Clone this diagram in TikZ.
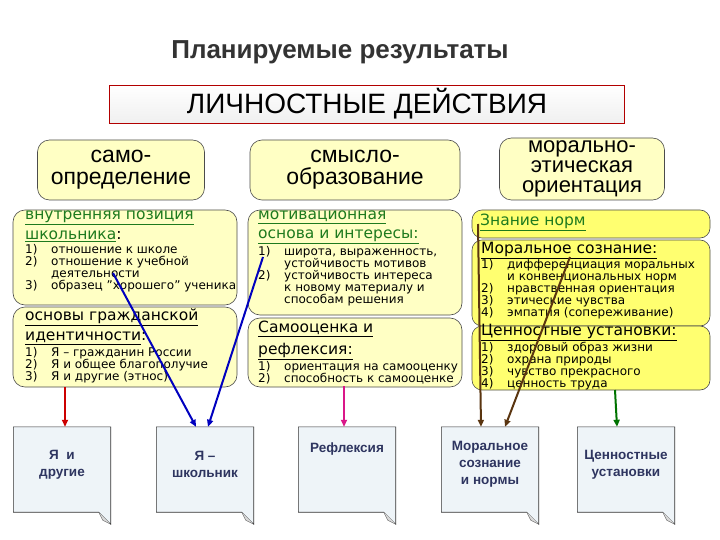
\documentclass[tikz,border=0pt]{standalone}
\usepackage{fontspec}
\setmainfont{DejaVu Sans}
\newfontfamily\arial{Liberation Sans}
\usetikzlibrary{arrows.meta,shadows}
\definecolor{ly}{HTML}{FFFFC4}
\definecolor{dy}{HTML}{FFFF70}
\definecolor{gr}{HTML}{1E7A1E}
\definecolor{navy}{HTML}{2E3560}
\definecolor{docf}{HTML}{EEF4F8}
\definecolor{brn}{HTML}{5A3510}
\newcommand{\li}[2]{\makebox[26pt][l]{#1}#2}
\newcommand{\lc}[1]{\hspace*{26pt}#1}
\newcommand{\hd}[1]{{\fontsize{15.5}{17.5}\selectfont #1}}
\newcommand{\ls}{\fontsize{12}{12.6}\selectfont}
\tikzset{
 ybox/.style={draw=black!70,fill=ly,rounded corners=12pt,line width=0.6pt,inner sep=0},
 dbox/.style={draw=black!70,fill=dy,rounded corners=10pt,line width=0.6pt,inner sep=0},
 txt/.style={anchor=north west,align=left,inner sep=0},
 tfont/.style={font=\arial\fontsize{23}{22}\selectfont,align=center},
 doc/.style={draw=none,minimum width=97pt,minimum height=85pt,inner sep=0,text=navy,font=\arial\bfseries\fontsize{13.5}{17}\selectfont,align=center},
 arr/.style={line width=2pt,-{Triangle[length=7pt,width=6pt]}}
}
\newcommand{\docbox}[3]{%
 \node[doc] (#1) at (#2) {};
 \fill[docf] (#1.north west) -- (#1.north east) -- ([yshift=-12pt]#1.south east) -- ([xshift=-12pt]#1.south east) -- (#1.south west) -- cycle;
 \draw[black!80,line width=0.6pt] (#1.north west) -- (#1.north east) -- ([yshift=-12pt]#1.south east) -- ([xshift=-12pt]#1.south east) -- (#1.south west) -- cycle;
 \draw[black!70,fill=black!15] ([yshift=-12pt]#1.south east) -- ([xshift=-8pt,yshift=-8pt]#1.south east) -- ([xshift=-12pt]#1.south east);
 \node[doc,anchor=center] at ([yshift=5pt]#1.center) {#3};}
\begin{document}
\begin{tikzpicture}[x=1pt,y=-1pt]
\useasboundingbox (0,0) rectangle (720,540);
\fill[white] (0,0) rectangle (720,540);
% title
\node[font=\arial\bfseries\fontsize{26}{27}\selectfont,text=black!80] (title) at (340,52) {Планируемые результаты};
\node[draw=red!70!black,line width=0.5pt,top color=white,bottom color=black!6,minimum width=515pt,minimum height=32pt,font=\arial\fontsize{28}{28}\selectfont] (banner) at (367,104) {ЛИЧНОСТНЫЕ ДЕЙСТВИЯ};
% top boxes
\node[ybox,minimum width=167pt,minimum height=60pt,tfont] (t1) at (121,170) {само-\\определение};
\node[ybox,minimum width=210pt,minimum height=60pt,tfont] (t2) at (355,170) {смысло-\\образование};
\node[ybox,minimum width=165pt,minimum height=62pt,tfont,font=\arial\fontsize{22}{20}\selectfont] (t3) at (582,169) {морально-\\этическая\\ориентация};
% left column
\node[ybox,minimum width=224pt,minimum height=95pt] (b1) at (125,257.5) {};
\node[txt] at (25,211) {\hd{\textcolor{gr}{\underline{внутренняя позиция}}}\\[5pt]\hd{\textcolor{gr}{\underline{школьника}}:}\\[1.5pt]
\ls\li{1)}{отношение к школе}\\\ls\li{2)}{отношение к учебной}\\\ls\lc{деятельности}\\\ls\li{3)}{образец "хорошего" ученика}};
\node[ybox,minimum width=224pt,minimum height=80pt] (b2) at (125,347) {};
\node[txt] at (25,309) {\hd{\underline{основы гражданской}}\\[5pt]\hd{\underline{идентичности}:}\\[1.5pt]
\ls\li{1)}{Я – гражданин России}\\\ls\li{2)}{Я и общее благополучие}\\\ls\li{3)}{Я и другие (этнос)}};
% middle column
\node[ybox,minimum width=214pt,minimum height=105pt] (b3) at (355,262.5) {};
\node[txt] at (258,211) {\hd{\textcolor{gr}{\underline{мотивационная}}}\\[5pt]\hd{\textcolor{gr}{\underline{основа и интересы:}}}\\[1.5pt]
\ls\li{1)}{широта, выраженность,}\\\ls\lc{устойчивость мотивов}\\\ls\li{2)}{устойчивость интереса}\\\ls\lc{к новому материалу и}\\\ls\lc{способам решения}};
\node[ybox,minimum width=214pt,minimum height=69pt] (b4) at (355,352.5) {};
\node[txt] at (258,321) {\hd{\underline{Самооценка и}}\\[5pt]\hd{\underline{рефлексия:}}\\[1.5pt]
\ls\li{1)}{ориентация на самооценку}\\\ls\li{2)}{способность к самооценке}};
% right column
\node[dbox,minimum width=238pt,minimum height=28pt] (r1) at (591,224) {};
\node[txt] at (480,214) {\hd{\textcolor{gr}{\underline{Знание норм}}}};
\node[dbox,minimum width=238pt,minimum height=86pt] (r2) at (591,283) {};
\node[txt] at (481,242) {\hd{\underline{Моральное сознание:}}\\[0pt]
\ls\li{1)}{дифференциация моральных}\\\ls\lc{и конвенциональных норм}\\\ls\li{2)}{нравственная ориентация}\\\ls\li{3)}{этические чувства}\\\ls\li{4)}{эмпатия (сопереживание)}};
\node[dbox,minimum width=238pt,minimum height=64pt] (r3) at (591,358) {};
\node[txt] at (481,324) {\hd{\underline{Ценностные установки:}}\\[0pt]
\ls\li{1)}{здоровый образ жизни}\\\ls\li{2)}{охрана природы}\\\ls\li{3)}{чувство прекрасного}\\\ls\li{4)}{ценность труда}};
% bottom docs
\docbox{d1}{62,469.5}{Я \ и\\другие}
\docbox{d2}{205,469.5}{Я –\\школьник}
\docbox{d3}{347,469.5}{Рефлексия\\[17pt]}
\docbox{d4}{490,469.5}{Моральное\\сознание\\и нормы}
\docbox{d5}{626,469.5}{Ценностные\\установки}
% arrow start points
\coordinate (s1) at (65,387);
\coordinate (s2) at (113,273);
\coordinate (s3) at (263,257);
\coordinate (s4) at (344,386);
\coordinate (s5) at (478,224);
\coordinate (s6) at (570,257);
\coordinate (s7) at (615,390);
\draw[arr,red!80!black] (s1) -- (s1 |- d1.north);
\draw[arr,blue!75!black] (s2) -- ([xshift=-9pt]d2.north);
\draw[arr,blue!75!black] (s3) -- ([xshift=3pt]d2.north);
\draw[arr,magenta!80!violet] (s4) -- (s4 |- d3.north);
\draw[arr,brn] (s5) -- ([xshift=-9pt]d4.north);
\draw[arr,brn] (s6) -- ([xshift=15pt]d4.north);
\draw[arr,green!45!black] (s7) -- ([xshift=-9pt]d5.north);
\end{tikzpicture}
\end{document}
